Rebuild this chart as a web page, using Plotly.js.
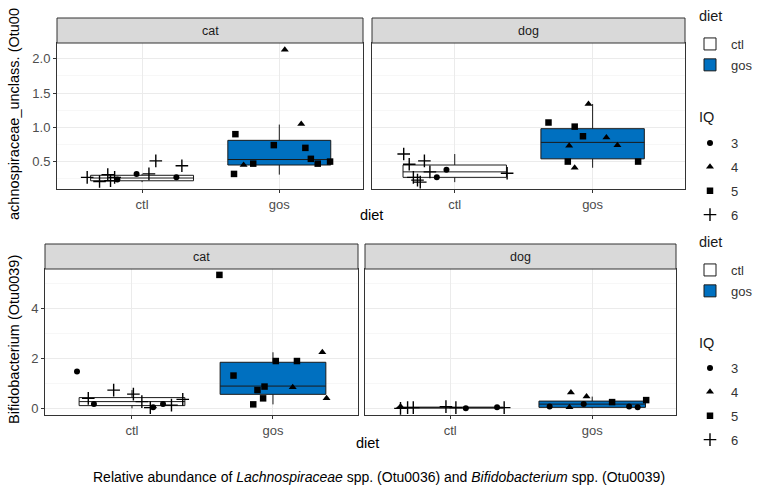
<!DOCTYPE html>
<html><head><meta charset="utf-8">
<script src="https://cdn.plot.ly/plotly-3.0.1.min.js"></script>
<style>html,body{margin:0;padding:0;background:#fff}#chart{width:757px;height:489px}</style>
</head><body><div id="chart"></div>
<script>
// ---------- categories ----------
const dietLevels = ['ctl', 'gos'];
const iqLevels = ['3', '4', '5', '6'];
const speciesLevels = ['cat', 'dog'];

// ---------- box statistics (order: cat-ctl, cat-gos, dog-ctl, dog-gos) ----------
const boxSpecies = ['cat', 'cat', 'dog', 'dog'];
const boxDiet = ['ctl', 'gos', 'ctl', 'gos'];
// Lachnospiraceae_unclass. (Otu0036)
const lachQ1 = [0.22, 0.45, 0.27, 0.54];
const lachMedian = [0.26, 0.53, 0.35, 0.78];
const lachQ3 = [0.30, 0.81, 0.45, 0.98];
const lachLower = [0.20, 0.31, 0.20, 0.41];
const lachUpper = [0.32, 1.04, 0.61, 1.34];
// Bifidobacterium (Otu0039)
const bifQ1 = [0.11, 0.56, 0.01, 0.04];
const bifMedian = [0.27, 0.89, 0.03, 0.17];
const bifQ3 = [0.43, 1.84, 0.05, 0.29];
const bifLower = [0.00, 0.16, 0.00, 0.00];
const bifUpper = [0.73, 2.24, 0.07, 0.47];

// ---------- jittered points ----------
// Lachnospiraceae, cat
const lachCatDiet = ['ctl','ctl','ctl','ctl','ctl','ctl','ctl','ctl','ctl','ctl','ctl',
                     'gos','gos','gos','gos','gos','gos','gos','gos','gos','gos','gos'];
const lachCatIQ = ['6','6','6','6','6','3','3','6','6','3','6',
                   '5','5','4','5','5','4','4','5','5','5','5'];
const lachCatValue = [0.27,0.21,0.31,0.22,0.27,0.24,0.32,0.32,0.51,0.27,0.44,
                      0.32,0.90,0.45,0.47,0.74,2.13,1.05,0.70,0.54,0.47,0.50];
const lachCatJitter = [-0.40,-0.31,-0.25,-0.23,-0.20,-0.18,-0.04,0.05,0.10,0.25,0.29,
                       -0.33,-0.32,-0.26,-0.19,-0.04,0.04,0.16,0.19,0.23,0.28,0.37];
// Lachnospiraceae, dog
const lachDogDiet = ['ctl','ctl','ctl','ctl','ctl','ctl','ctl','ctl','ctl','ctl',
                     'gos','gos','gos','gos','gos','gos','gos','gos','gos','gos'];
const lachDogIQ = ['6','6','6','6','6','6','3','6','3','6',
                   '5','4','5','5','4','4','4','5','4','5'];
const lachDogValue = [0.61,0.46,0.51,0.27,0.23,0.20,0.27,0.35,0.38,0.33,
                      1.07,1.34,1.01,0.87,0.73,0.85,0.74,0.50,0.41,0.50];
const lachDogJitter = [-0.37,-0.33,-0.22,-0.30,-0.27,-0.25,-0.13,-0.18,-0.06,0.38,
                       -0.32,-0.03,-0.13,-0.07,-0.17,0.10,0.18,-0.18,-0.13,0.33];
// Bifidobacterium, cat
const bifCatDiet = ['ctl','ctl','ctl','ctl','ctl','ctl','ctl','ctl','ctl','ctl','ctl',
                    'gos','gos','gos','gos','gos','gos','gos','gos','gos','gos','gos'];
const bifCatIQ = ['3','6','3','6','6','6','6','3','3','6','6',
                  '5','5','5','5','5','5','5','5','4','4','4'];
const bifCatValue = [1.47,0.40,0.17,0.73,0.57,0.27,0.03,0.04,0.17,0.13,0.36,
                     5.33,1.31,0.16,0.73,0.40,0.87,1.89,1.89,0.84,2.24,0.40];
const bifCatJitter = [-0.39,-0.31,-0.27,-0.13,0.01,0.07,0.13,0.15,0.22,0.28,0.36,
                      -0.38,-0.28,-0.14,-0.11,-0.07,-0.06,0.02,0.17,0.14,0.35,0.38];
// Bifidobacterium, dog
const bifDogDiet = ['ctl','ctl','ctl','ctl','ctl','ctl','ctl','ctl','ctl',
                    'gos','gos','gos','gos','gos','gos','gos','gos','gos'];
const bifDogIQ = ['4','6','6','6','6','6','3','3','6',
                  '3','4','4','3','4','5','3','3','5'];
const bifDogValue = [0.07,0.00,0.03,0.03,0.07,0.03,0.00,0.04,0.03,
                     0.07,0.63,0.04,0.17,0.47,0.25,0.07,0.04,0.33];
const bifDogJitter = [-0.35,-0.35,-0.30,-0.26,-0.03,0.04,0.11,0.33,0.38,
                      -0.30,-0.15,-0.16,-0.06,-0.04,0.14,0.26,0.32,0.38];

// ---------- texts ----------
const yTitleTop = 'achnospiraceae_unclass. (Otu00';
const yTitleBottom = 'Bifidobacterium (Otu0039)';
const xTitle = 'diet';
const dietLegendTitle = 'diet';
const iqLegendTitle = 'IQ';
const caption = 'Relative abundance of <i>Lachnospiraceae</i> spp. (Otu0036) and <i>Bifidobacterium</i> spp. (Otu0039)';

// ---------- styling ----------
const W = 757, H = 489;
const FONT = 'Liberation Sans, Arial, sans-serif';
const dietFill = {ctl: '#ffffff', gos: '#0070c0'};
const iqSymbol = {'3': 'circle', '4': 'triangle-up', '5': 'square', '6': 'cross-thin'};
const iqSize = {'3': 6, '4': 7, '5': 6.5, '6': 9};

// panel pixel frames [left, right, plotTop, plotBottom, stripTop]
const frames = {
  lachCat: [57, 363, 43, 189, 18],
  lachDog: [372, 685, 43, 189, 18],
  bifCat: [45, 358, 269, 415, 244],
  bifDog: [365, 676, 269, 415, 244]
};
const px = v => v / W, py = v => 1 - v / H;

const traces = [];
const panels = [
  {key: 'lachCat', xa: 'x', ya: 'y', species: 'cat', row: 'top',
   q1: lachQ1, med: lachMedian, q3: lachQ3, lo: lachLower, up: lachUpper,
   diet: lachCatDiet, iq: lachCatIQ, val: lachCatValue, jit: lachCatJitter},
  {key: 'lachDog', xa: 'x2', ya: 'y2', species: 'dog', row: 'top',
   q1: lachQ1, med: lachMedian, q3: lachQ3, lo: lachLower, up: lachUpper,
   diet: lachDogDiet, iq: lachDogIQ, val: lachDogValue, jit: lachDogJitter},
  {key: 'bifCat', xa: 'x3', ya: 'y3', species: 'cat', row: 'bottom',
   q1: bifQ1, med: bifMedian, q3: bifQ3, lo: bifLower, up: bifUpper,
   diet: bifCatDiet, iq: bifCatIQ, val: bifCatValue, jit: bifCatJitter},
  {key: 'bifDog', xa: 'x4', ya: 'y4', species: 'dog', row: 'bottom',
   q1: bifQ1, med: bifMedian, q3: bifQ3, lo: bifLower, up: bifUpper,
   diet: bifDogDiet, iq: bifDogIQ, val: bifDogValue, jit: bifDogJitter}
];

const legendShown = {};
panels.forEach(p => {
  const dietLegend = p.row === 'top' ? 'legend' : 'legend3';
  const iqLegend = p.row === 'top' ? 'legend2' : 'legend4';
  // boxes
  boxSpecies.forEach((sp, i) => {
    if (sp !== p.species) return;
    const d = boxDiet[i];
    const lk = dietLegend + d;
    traces.push({
      type: 'box', xaxis: p.xa, yaxis: p.ya, name: d,
      x: [dietLevels.indexOf(d)],
      q1: [p.q1[i]], median: [p.med[i]], q3: [p.q3[i]],
      lowerfence: [p.lo[i]], upperfence: [p.up[i]],
      width: 0.75, whiskerwidth: 0, fillcolor: dietFill[d],
      line: {color: '#1a1a1a', width: 1}, boxpoints: false,
      legend: dietLegend, legendgroup: lk, showlegend: !legendShown[lk]
    });
    legendShown[lk] = true;
  });
  // points
  iqLevels.forEach(q => {
    const xs = [], ys = [];
    p.iq.forEach((v, j) => {
      if (v !== q) return;
      xs.push(dietLevels.indexOf(p.diet[j]) + p.jit[j]);
      ys.push(p.val[j]);
    });
    const lk = iqLegend + q;
    traces.push({
      type: 'scatter', mode: 'markers', xaxis: p.xa, yaxis: p.ya, name: q,
      x: xs, y: ys, cliponaxis: false,
      marker: {symbol: iqSymbol[q], size: iqSize[q], color: '#000000',
               line: {color: '#000000', width: q === '6' ? 1.4 : 0}},
      legend: iqLegend, legendgroup: lk, showlegend: !legendShown[lk]
    });
    legendShown[lk] = true;
  });
});

function xaxisCfg(f, range) {
  return {
    domain: [px(f[0]), px(f[1])], range: range,
    tickmode: 'array', tickvals: [0, 1], ticktext: dietLevels,
    showgrid: true, gridcolor: '#ebebeb', gridwidth: 1, zeroline: false,
    showline: true, mirror: true, linecolor: '#333333', linewidth: 1,
    ticks: 'outside', ticklen: 3, tickcolor: '#333333', automargin: false,
    tickfont: {family: FONT, size: 13, color: '#4d4d4d'}, fixedrange: true
  };
}
function yaxisCfg(f, range, dtick, minor, labels) {
  return {
    domain: [py(f[3]), py(f[2])], range: range, dtick: dtick, tick0: 0,
    showgrid: true, gridcolor: '#ebebeb', gridwidth: 1, zeroline: false,
    minor: {dtick: minor, tick0: 0, showgrid: true, gridcolor: '#f2f2f2', gridwidth: 0.6, ticks: ''},
    showline: true, mirror: true, linecolor: '#333333', linewidth: 1,
    ticks: labels ? 'outside' : '', ticklen: 3, tickcolor: '#333333', automargin: false,
    showticklabels: labels, tickformat: dtick < 1 ? '.1f' : 'd',
    tickfont: {family: FONT, size: 13, color: '#4d4d4d'}, fixedrange: true
  };
}

const fr = frames;
const layout = {
  width: W, height: H, margin: {l: 0, r: 0, t: 0, b: 0, autoexpand: false},
  paper_bgcolor: '#ffffff', plot_bgcolor: '#ffffff',
  font: {family: FONT, color: '#1a1a1a'},
  boxmode: 'overlay', hovermode: false,
  xaxis: Object.assign(xaxisCfg(fr.lachCat, [-0.62, 1.61]), {anchor: 'y'}),
  xaxis2: Object.assign(xaxisCfg(fr.lachDog, [-0.6, 1.67]), {anchor: 'y2'}),
  xaxis3: Object.assign(xaxisCfg(fr.bifCat, [-0.617, 1.603]), {anchor: 'y3'}),
  xaxis4: Object.assign(xaxisCfg(fr.bifDog, [-0.6, 1.59]), {anchor: 'y4'}),
  yaxis: Object.assign(yaxisCfg(fr.lachCat, [0.10, 2.23], 0.5, 0.25, true), {anchor: 'x'}),
  yaxis2: Object.assign(yaxisCfg(fr.lachDog, [0.10, 2.23], 0.5, 0.25, false), {anchor: 'x2'}),
  yaxis3: Object.assign(yaxisCfg(fr.bifCat, [-0.265, 5.565], 2, 1, true), {anchor: 'x3'}),
  yaxis4: Object.assign(yaxisCfg(fr.bifDog, [-0.265, 5.565], 2, 1, false), {anchor: 'x4'}),
  shapes: [], annotations: []
};

const legendBase = {
  xanchor: 'left', yanchor: 'top', bgcolor: 'rgba(0,0,0,0)', borderwidth: 0,
  font: {family: FONT, size: 13, color: '#333333'}, itemwidth: 32
};
layout.legend = Object.assign({}, legendBase, {x: px(689), y: py(29), tracegroupgap: 1});
layout.legend2 = Object.assign({}, legendBase, {x: px(689), y: py(128), tracegroupgap: 4});
layout.legend3 = Object.assign({}, legendBase, {x: px(689), y: py(255), tracegroupgap: 1});
layout.legend4 = Object.assign({}, legendBase, {x: px(689), y: py(353), tracegroupgap: 4});

// legend titles
[[dietLegendTitle, 16], [iqLegendTitle, 117], [dietLegendTitle, 242], [iqLegendTitle, 343]].forEach(t => {
  layout.annotations.push({xref: 'paper', yref: 'paper', showarrow: false,
    x: px(697), y: py(t[1]), xanchor: 'left', yanchor: 'middle', text: t[0],
    font: {family: FONT, size: 14.5, color: '#1a1a1a'}});
});

// strips
panels.forEach(p => {
  const f = fr[p.key];
  layout.shapes.push({type: 'rect', xref: 'paper', yref: 'paper',
    x0: px(f[0]), x1: px(f[1]), y0: py(f[2]), y1: py(f[4]),
    fillcolor: '#d9d9d9', line: {color: '#333333', width: 1}, layer: 'above'});
  layout.annotations.push({xref: 'paper', yref: 'paper', showarrow: false,
    x: px((f[0] + f[1]) / 2), y: py((f[2] + f[4]) / 2), xanchor: 'center', yanchor: 'middle',
    text: p.species, font: {family: FONT, size: 12.5, color: '#1a1a1a'}});
});
// axis titles
layout.annotations.push(
  {xref: 'paper', yref: 'paper', showarrow: false, x: px(371), y: py(215), text: xTitle,
   xanchor: 'center', yanchor: 'middle', font: {family: FONT, size: 14.5, color: '#000'}},
  {xref: 'paper', yref: 'paper', showarrow: false, x: px(367), y: py(443), text: xTitle,
   xanchor: 'center', yanchor: 'middle', font: {family: FONT, size: 14.5, color: '#000'}},
  {xref: 'paper', yref: 'paper', showarrow: false, x: px(14), y: py(114), text: yTitleTop,
   textangle: -90, xanchor: 'center', yanchor: 'middle', font: {family: FONT, size: 14.5, color: '#000'}},
  {xref: 'paper', yref: 'paper', showarrow: false, x: px(14), y: py(340), text: yTitleBottom,
   textangle: -90, xanchor: 'center', yanchor: 'middle', font: {family: FONT, size: 14.5, color: '#000'}},
  {xref: 'paper', yref: 'paper', showarrow: false, x: px(379), y: py(477), text: caption,
   xanchor: 'center', yanchor: 'middle',
   font: {family: 'Liberation Sans Narrow, Arial Narrow, Liberation Sans, sans-serif', size: 14, color: '#000'}}
);

Plotly.newPlot('chart', traces, layout, {staticPlot: true, displayModeBar: false});
</script>
</body></html>
